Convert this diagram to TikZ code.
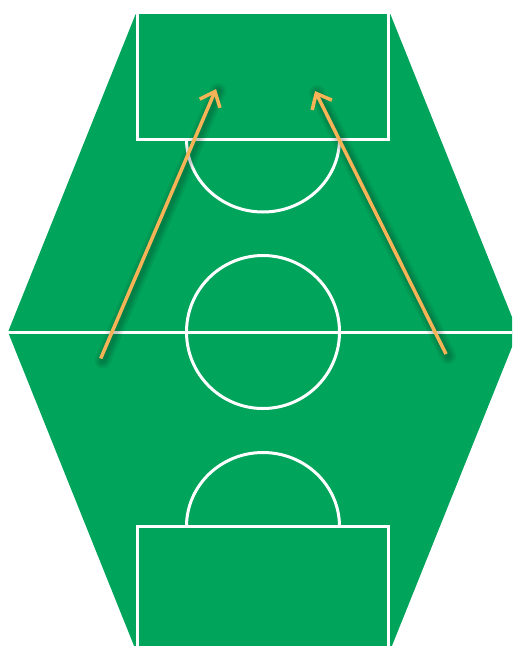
\documentclass[tikz,border=0pt]{standalone}
\usetikzlibrary{arrows.meta}
\definecolor{pitch}{RGB}{0,164,91}
\definecolor{runline}{RGB}{246,180,86}
\tikzset{
  mark line/.style={draw=white, line width=3pt},
  run arrow/.style={draw=runline, line width=3.5pt, -{Straight Barb[length=13pt,width=22pt,line width=3.5pt]}},
  run shadow/.style={draw=black, line width=#1, opacity=0.06, line cap=round},
}
\begin{document}
\begin{tikzpicture}[x=1pt,y=-1pt]
\useasboundingbox (0,0) rectangle (512,646);
\clip (0,0) rectangle (512,646);
% pitch
\fill[pitch] (135.7,14) -- (390.3,14) -- (518,332) -- (390.3,650) -- (135.7,650) -- (8,332) -- cycle;
% halfway line
\draw[mark line] (8,332) -- (518,332);
% centre circle
\draw[mark line] (263,332) circle (76.5);
% top box and arc
\draw[mark line] (137.7,14) -- (137.7,139) -- (388.3,139) -- (388.3,14);
\draw[mark line] (186.5,139) arc[start angle=180, end angle=0, x radius=76.5, y radius=73];
% bottom box and arc
\draw[mark line] (137.7,650) -- (137.7,526.5) -- (388.3,526.5) -- (388.3,650);
\draw[mark line] (186.5,526.5) arc[start angle=180, end angle=360, x radius=76.5, y radius=74];
% runs
\coordinate (l0) at (100.7,358.5);
\coordinate (l1) at (216,89);
\coordinate (r0) at (446,354);
\coordinate (r1) at (315,91);
\foreach \w in {16,12,9,6}{
  \draw[run shadow=\w pt] ([xshift=2pt,yshift=-2pt]l0) -- ([xshift=2pt,yshift=-2pt]l1);
  \draw[run shadow=\w pt] ([xshift=2pt,yshift=-2pt]r0) -- ([xshift=2pt,yshift=-2pt]r1);
}
\draw[run arrow] (l0) -- (l1);
\draw[run arrow] (r0) -- (r1);
\end{tikzpicture}
\end{document}
